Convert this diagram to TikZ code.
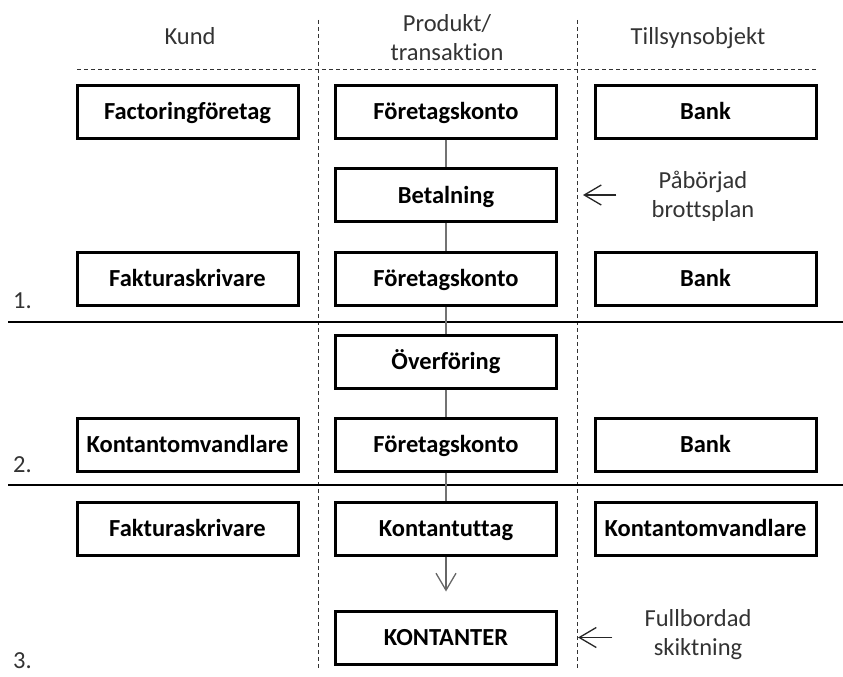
\documentclass[tikz,border=0pt]{standalone}
\usepackage{fontspec}
\setmainfont{Carlito}[Ligatures={NoCommon}]
\usetikzlibrary{arrows.meta}
\begin{document}
\begin{tikzpicture}[x=1pt,y=-1pt,
  every node/.style={font=\fontsize{24.5}{29}\selectfont, text=black!80},
  box/.style={draw=black, line width=3pt, minimum width=221pt, minimum height=53pt, inner sep=0pt, text height=21pt, text depth=5pt, font=\fontsize{24.5}{29}\selectfont\bfseries, text=black},
  lbl/.style={align=center, inner sep=0pt},
  divider/.style={draw=black!80, line width=1pt, dash pattern=on 4pt off 3pt},
  sep/.style={draw=black, line width=2pt},
  link/.style={draw=black!55, line width=1.4pt},
  pointer/.style={draw=black!85, line width=1.3pt, -{Straight Barb[length=17pt,width=20pt,line width=1.3pt]}}
]
\useasboundingbox (0,0) rectangle (843,677);

% column headers
\node[lbl, anchor=base] (hkund) at (190,45) {Kund};
\node[lbl] (hprod) at (447,38) {Produkt/\\transaktion};
\node[lbl, anchor=base] (htill) at (698,45) {Tillsynsobjekt};

% dividers
\coordinate (d1t) at (318,20); \coordinate (d1b) at (318,670);
\coordinate (d2t) at (577,20); \coordinate (d2b) at (577,670);
\coordinate (hl) at (77,70); \coordinate (hr) at (817,70);
\draw[divider] (d1t) -- (d1b);
\draw[divider] (d2t) -- (d2b);
\draw[divider] (hl) -- (hr);

\coordinate (s1l) at (8,322); \coordinate (s1r) at (843,322);
\coordinate (s2l) at (8,485); \coordinate (s2r) at (843,485);
\draw[sep] (s1l) -- (s1r);
\draw[sep] (s2l) -- (s2r);

% stage numbers
\node[anchor=base west, inner sep=0pt] (n1) at (13,308) {1.};
\node[anchor=base west, inner sep=0pt] (n2) at (13,472) {2.};
\node[anchor=base west, inner sep=0pt] (n3) at (13,668) {3.};

% boxes
\node[box] (k1) at (187.5,111.5) {Factoringföretag};
\node[box] (m1) at (446,111.5) {Företagskonto};
\node[box] (t1) at (705.5,111.5) {Bank};

\node[box] (m2) at (446,195) {Betalning};

\node[box] (k3) at (187.5,278.5) {Fakturaskrivare};
\node[box] (m3) at (446,278.5) {Företagskonto};
\node[box] (t3) at (705.5,278.5) {Bank};

\node[box] (m4) at (446,361.5) {Överföring};

\node[box] (k5) at (187.5,444.5) {Kontantomvandlare};
\node[box] (m5) at (446,444.5) {Företagskonto};
\node[box] (t5) at (705.5,444.5) {Bank};

\node[box] (k6) at (187.5,528.5) {Fakturaskrivare};
\node[box] (m6) at (446,528.5) {Kontantuttag};
\node[box] (t6) at (705.5,528.5) {Kontantomvandlare};

\node[box] (m7) at (446,637.5) {KONTANTER};

% side labels
\node[lbl] (pab) at (703,196) {Påbörjad\\brottsplan};
\node[lbl] (full) at (698,635) {Fullbordad\\skiktning};

% connectors
\draw[link] (m1) -- (m2);
\draw[link] (m2) -- (m3);
\draw[link] (m3) -- (m4);
\draw[link] (m4) -- (m5);
\draw[link] (m5) -- (m6);
\draw[pointer, draw=black!60, shorten >=18pt] (m6) -- (m7);

\draw[pointer, shorten <=35pt, shorten >=25pt] (pab.west |- m2) -- (m2.east);
\draw[pointer, shorten <=32pt, shorten >=20pt] (full.west |- m7) -- (m7.east);
\end{tikzpicture}
\end{document}
